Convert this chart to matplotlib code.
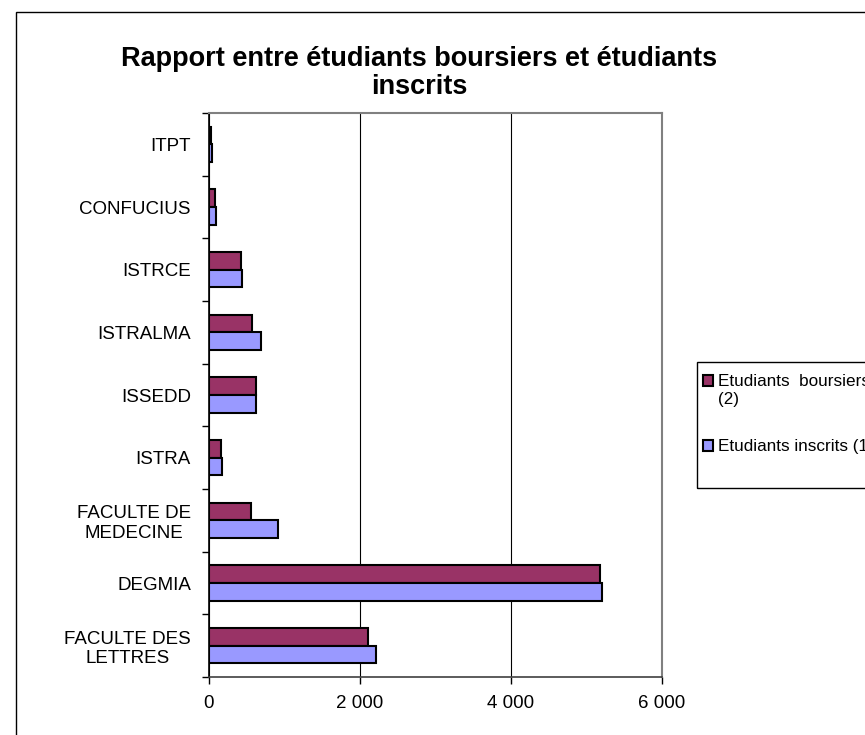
import matplotlib
matplotlib.use("Agg")
import matplotlib.pyplot as plt
from matplotlib.patches import Rectangle
from matplotlib.legend_handler import HandlerPatch
import numpy as np

plt.rcParams['font.family'] = ['Liberation Sans', 'DejaVu Sans']

categories = ["FACULTE DES\nLETTRES", "DEGMIA", "FACULTE DE\nMEDECINE", "ISTRA",
              "ISSEDD", "ISTRALMA", "ISTRCE", "CONFUCIUS", "ITPT"]
boursiers = [2106, 5179, 561, 164, 627, 565, 420, 75, 28]
inscrits = [2208, 5209, 914, 168, 627, 693, 442, 88, 38]
xticks = [0, 2000, 4000, 6000]
xticklabels = ["0", "2 000", "4 000", "6 000"]
title = "Rapport entre étudiants boursiers et étudiants\ninscrits"
label_b = "Etudiants  boursiers\n(2)"
label_i = "Etudiants inscrits (1)"

W, H = 865, 735
fig = plt.figure(figsize=(W / 100, H / 100), dpi=100)
fig.patches.append(Rectangle((16 / W, -0.1), 1.2, 1.1 - 12 / H, transform=fig.transFigure,
                             fill=False, edgecolor='black', linewidth=1.0))
# legend frame (extends past the right edge, as in the reference)
fig.patches.append(Rectangle((697 / W, 1 - 488 / H), 0.5, (488 - 362) / H,
                             transform=fig.transFigure, fill=False,
                             edgecolor='black', linewidth=1.0))

ax = fig.add_axes([209 / W, 1 - 677 / H, (662 - 209) / W, (677 - 113) / H])
y = np.arange(len(categories))
h = 0.28
bb = ax.barh(y + h / 2, boursiers, height=h, color='#993366', edgecolor='black',
             linewidth=1.5, label=label_b, zorder=3)
bi = ax.barh(y - h / 2, inscrits, height=h, color='#9999FF', edgecolor='black',
             linewidth=1.5, label=label_i, zorder=3)

ax.set_xlim(0, 6000)
ax.set_ylim(-0.5, len(categories) - 0.5)
ax.set_xticks(xticks)
ax.set_xticklabels(xticklabels, fontsize=13.5)
ax.set_yticks(np.arange(len(categories) + 1) - 0.5, minor=False)
ax.set_yticklabels([])
ax.set_yticks(y, minor=True)
ax.set_yticklabels(categories, minor=True, fontsize=13.5, multialignment='center')
ax.tick_params(axis='y', which='major', length=5, width=1, direction='out')
ax.tick_params(axis='y', which='minor', length=0, pad=13)
ax.tick_params(axis='x', length=5, width=1, pad=8)
ax.grid(axis='x', color='black', linewidth=0.8, zorder=0)
for s in ['top', 'right']:
    ax.spines[s].set_color('#808080')
    ax.spines[s].set_linewidth(1.5)
ax.spines['left'].set_color('black')
ax.spines['left'].set_linewidth(1.2)
ax.spines['bottom'].set_color('#404040')
ax.spines['bottom'].set_linewidth(1.2)

fig.text(419 / W, 1 - 73 / H, title, ha='center', va='center', fontsize=19.5,
         fontweight='bold', linespacing=1.15)


def first_line_patch(shift):
    def f(legend, orig_handle, xdescent, ydescent, width, height, fontsize):
        return Rectangle((-xdescent, -ydescent + shift * fontsize), width, height)
    return f


hb, hi = bb.patches[0], bi.patches[0]
leg = ax.legend(handles=[hb, hi], labels=[label_b, label_i], loc='upper left',
                bbox_to_anchor=(703 / W, 1 - 374 / H), bbox_transform=fig.transFigure,
                borderaxespad=0, fontsize=12.3, frameon=False,
                handlelength=0.6, handleheight=0.6, handletextpad=0.3,
                labelspacing=1.9, borderpad=0,
                handler_map={hb: HandlerPatch(patch_func=first_line_patch(0.6)),
                             hi: HandlerPatch()})
for t in leg.get_texts():
    t.set_linespacing(1.25)

fig.savefig("out.png", dpi=100)
